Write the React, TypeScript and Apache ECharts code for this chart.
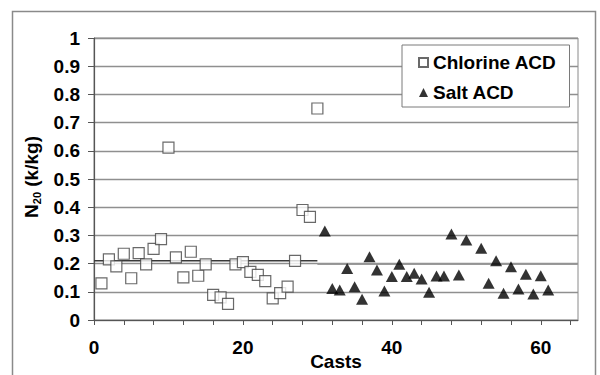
import React, { useEffect, useRef } from "react";
import * as echarts from "echarts";

const chlorineCasts = [1, 2, 3, 4, 5, 6, 7, 8, 9, 10, 11, 12, 13, 14, 15, 16, 17, 18, 19, 20, 21, 22, 23, 24, 25, 26, 27, 28, 29, 30];
const chlorineValues = [0.13, 0.215, 0.19, 0.235, 0.148, 0.237, 0.197, 0.252, 0.287, 0.611, 0.222, 0.151, 0.242, 0.157, 0.197, 0.089, 0.08, 0.057, 0.197, 0.205, 0.171, 0.16, 0.138, 0.077, 0.095, 0.118, 0.21, 0.39, 0.366, 0.75];

const saltCasts = [31, 32, 33, 34, 35, 36, 37, 38, 39, 40, 41, 42, 43, 44, 45, 46, 47, 48, 49, 50, 52, 53, 54, 55, 56, 57, 58, 59, 60, 61];
const saltValues = [0.316, 0.112, 0.106, 0.183, 0.118, 0.074, 0.224, 0.177, 0.103, 0.154, 0.198, 0.154, 0.166, 0.145, 0.098, 0.156, 0.156, 0.305, 0.16, 0.284, 0.254, 0.13, 0.21, 0.095, 0.189, 0.11, 0.162, 0.092, 0.157, 0.106];

const chlorineMean = 0.21;
const chlorineMeanRange = [0, 30];
const saltMean = 0.198;
const saltMeanRange = [30, 65];

const xTickValues = [0, 4, 8, 12, 16, 20, 24, 28, 32, 36, 40, 44, 48, 52, 56, 60, 64];
const xLabelValues = [0, 20, 40, 60];

const FONT = "'Liberation Sans', Arial, sans-serif";

export default function App() {
  const ref = useRef<HTMLDivElement>(null);
  useEffect(() => {
    if (!ref.current) return;
    const chart = echarts.init(ref.current, null, { renderer: "svg" });
    const chlorineData = chlorineCasts.map((c, i) => [c, chlorineValues[i]]);
    const saltData = saltCasts.map((c, i) => [c, saltValues[i]]);
    chart.setOption({
      animation: false,
      backgroundColor: "#fff",
      textStyle: { fontFamily: FONT },
      grid: {
        left: 94,
        top: 38,
        width: 484,
        height: 282,
        outerBoundsMode: "none",
        containLabel: false,
        show: true,
        borderColor: "#8a8a8a",
        borderWidth: 1,
        backgroundColor: "transparent",
      },
      legend: {
        data: ["Chlorine ACD", "Salt ACD"],
        orient: "vertical",
        left: 402,
        top: 45,
        padding: [8, 13, 5, 16],
        itemGap: 11,
        itemWidth: 9,
        itemHeight: 9,
        itemTextGap: 6,
        backgroundColor: "#fff",
        borderColor: "#7a7a7a",
        borderWidth: 1,
        borderRadius: 0,
        textStyle: {
          fontFamily: FONT,
          fontSize: 19,
          fontWeight: "bold",
          color: "#000",
          lineHeight: 18,
        },
      },
      xAxis: {
        type: "value",
        min: 0,
        max: 65,
        name: "Casts",
        nameLocation: "middle",
        nameGap: 32,
        nameMoveOverlap: false,
        nameTextStyle: { fontFamily: FONT, fontSize: 19, fontWeight: "bold", color: "#000" },
        axisLine: { show: true, lineStyle: { color: "#555", width: 1.2 } },
        axisTick: { show: true, inside: false, length: 5, customValues: xTickValues, lineStyle: { color: "#555" } },
        axisLabel: {
          customValues: xLabelValues,
          margin: 18,
          fontFamily: FONT,
          fontSize: 19,
          fontWeight: "bold",
          color: "#000",
        },
        splitLine: { show: false },
      },
      yAxis: {
        type: "value",
        min: 0,
        max: 1,
        interval: 0.1,
        axisLine: { show: true, lineStyle: { color: "#555", width: 1.2 } },
        axisTick: { show: true, inside: false, length: 6, lineStyle: { color: "#555" } },
        axisLabel: {
          margin: 14,
          fontFamily: FONT,
          fontSize: 19,
          fontWeight: "bold",
          color: "#000",
          formatter: (v: number) => String(Math.round(v * 10) / 10),
        },
        splitLine: { show: true, lineStyle: { color: "#8f8f8f", width: 1.3 } },
      },
      graphic: [
        {
          type: "rect",
          silent: true,
          shape: { x: 12.5, y: 11.5, width: 583, height: 400 },
          style: { fill: "none", stroke: "#8a8a8a", lineWidth: 1.5 },
          z: 100,
        },
        {
          type: "text",
          x: 31,
          y: 177,
          rotation: Math.PI / 2,
          style: {
            text: "{n|N}{s|20}{n| (k/kg)}",
            align: "center",
            verticalAlign: "middle",
            fill: "#000",
            fontFamily: FONT,
            fontWeight: "bold",
            fontSize: 19,
            rich: {
              n: { fontFamily: FONT, fontWeight: "bold", fontSize: 19, lineHeight: 22, verticalAlign: "middle" },
              s: { fontFamily: FONT, fontWeight: "bold", fontSize: 11, lineHeight: 11, verticalAlign: "bottom" },
            },
          },
        },
      ],
      series: [
        {
          name: "chlorineMean",
          type: "line",
          data: chlorineMeanRange.map((c) => [c, chlorineMean]),
          showSymbol: false,
          silent: true,
          lineStyle: { color: "#3a3a3a", width: 1.5 },
          z: 1,
        },
        {
          name: "saltMean",
          type: "line",
          data: saltMeanRange.map((c) => [c, saltMean]),
          showSymbol: false,
          silent: true,
          lineStyle: { color: "#9a9a9a", width: 1.5 },
          z: 1,
        },
        {
          name: "Chlorine ACD",
          type: "scatter",
          data: chlorineData,
          symbol: "rect",
          symbolSize: 11,
          itemStyle: { color: "#fff", borderColor: "#444", borderWidth: 1.2 },
          z: 3,
        },
        {
          name: "Salt ACD",
          type: "scatter",
          data: saltData,
          symbol: "triangle",
          symbolSize: [12, 11],
          itemStyle: { color: "#000" },
          z: 4,
        },
      ],
    });
    return () => chart.dispose();
  }, []);
  return (
    <div
      ref={ref}
      style={{ position: "fixed", left: 0, top: 0, width: 600, height: 375 }}
    />
  );
}
